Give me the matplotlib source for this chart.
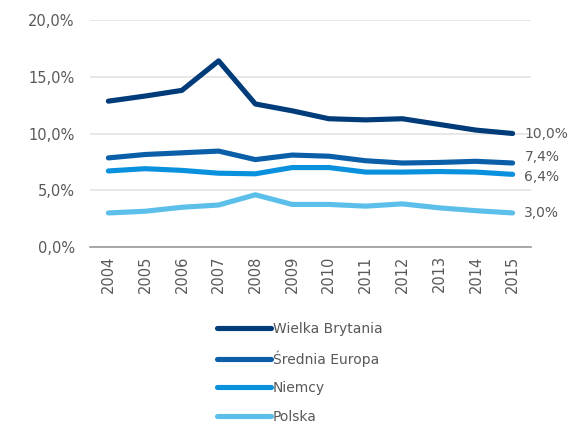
import matplotlib
matplotlib.use("Agg")
import matplotlib.pyplot as plt
from matplotlib.lines import Line2D

years = ["2004", "2005", "2006", "2007", "2008", "2009", "2010", "2011", "2012", "2013", "2014", "2015"]
uk = [12.85, 13.3, 13.8, 16.4, 12.6, 12.0, 11.3, 11.2, 11.3, 10.8, 10.3, 10.0]
europa = [7.85, 8.15, 8.3, 8.45, 7.7, 8.1, 8.0, 7.6, 7.4, 7.45, 7.55, 7.4]
niemcy = [6.7, 6.9, 6.75, 6.5, 6.45, 7.0, 7.0, 6.6, 6.6, 6.65, 6.6, 6.4]
polska = [3.0, 3.15, 3.5, 3.7, 4.6, 3.75, 3.75, 3.6, 3.8, 3.45, 3.2, 3.0]
names = ["Wielka Brytania", "Średnia Europa", "Niemcy", "Polska"]
end_labels = ["10,0%", "7,4%", "6,4%", "3,0%"]
yticks = [0, 5, 10, 15, 20]

colors = ["#003b7a", "#0a5fa8", "#0a91dd", "#5cbfea"]
gray = "#595959"

plt.rcParams['font.family'] = ['DejaVu Sans']
fig = plt.figure(figsize=(5.73, 4.25), dpi=100)
ax = fig.add_axes([90/573, 1-247/425, (531-90)/573, (247-20)/425])

x = list(range(len(years)))
series = [uk, europa, niemcy, polska]
for s, c in zip(series, colors):
    ax.plot(x, s, color=c, lw=3.7, solid_capstyle='round', solid_joinstyle='round', zorder=3)

ax.set_xlim(-0.5, len(years) - 0.5)
ax.set_ylim(0, 20)
ax.set_yticks(yticks)
ax.set_yticklabels([f"{v:.1f}%".replace(".", ",") for v in yticks], color=gray, fontsize=10.5)
ax.set_xticks(x)
ax.set_xticklabels(years, rotation=90, color=gray, fontsize=10.5)
ax.tick_params(axis='y', length=0, pad=11)
ax.tick_params(axis='x', length=0, pad=6)
ax.grid(axis='y', color="#e3e3e3", lw=1.2, zorder=0)
for sp in ["top", "right", "left"]:
    ax.spines[sp].set_visible(False)
ax.spines["bottom"].set_color("#9a9a9a")
ax.spines["bottom"].set_linewidth(1.2)

offsets = [0, 0.5, -0.25, 0]
for s, lab, off in zip(series, end_labels, offsets):
    ax.annotate(lab, xy=(x[-1], s[-1] + off), xytext=(8.5, 0), textcoords='offset points',
                va='center', ha='left', color=gray, fontsize=10, annotation_clip=False)

handles = [Line2D([0], [0], color=c, lw=3.7, solid_capstyle='round') for c in colors]
leg = fig.legend(handles, names, loc='upper left', bbox_to_anchor=(204/573, 1-309/425),
                 frameon=False, fontsize=10, labelcolor=gray, handlelength=3.9,
                 handletextpad=0.15, labelspacing=1.05)

fig.savefig("out.png", dpi=100)
